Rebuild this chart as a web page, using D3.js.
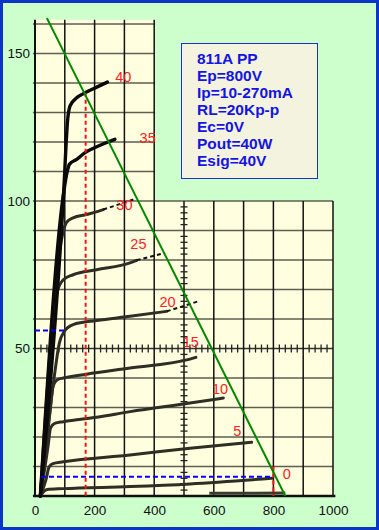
<!DOCTYPE html>
<html>
<head>
<meta charset="utf-8">
<script src="https://cdn.jsdelivr.net/npm/d3@7"></script>
<style>
  body { margin: 0; background: #ccffcc; }
  svg { display: block; }
</style>
</head>
<body>
<div id="container"></div>
<script>
/* CONSTANTS AND GLOBALS */
const width = 379,
  height = 530;

/* DATA */
// grid voltage of each plate curve
const gridBias = [0, 5, 10, 15, 20, 25, 30, 35, 40];

// plate curves, [plate V, plate mA]
const curve0 = [[18, 0], [30, 1.6], [40, 2.2], [95, 2.5], [319, 3.2], [520, 4.1], [794, 6]];
const curve5 = [[18, 0], [38, 6], [47, 9.8], [60, 11], [95, 11.6], [319, 13.9], [520, 16.2], [727, 18.2]];
const curve10 = [[18, 0], [44, 17], [52, 23], [66, 24.6], [95, 25.2], [207, 26.7], [319, 28.6], [520, 31.5], [632, 33.2]];
const curve15 = [[18, 0], [50, 28], [60, 37], [75, 39.4], [95, 40], [173, 41.3], [319, 43.4], [520, 46.4], [540, 47]];
const curve20 = [[18, 0], [64, 40], [82, 52], [97, 55.6], [128, 58.1], [207, 59.5], [319, 60.9], [442, 62.6]];
const curve25 = [[18, 0], [60, 52], [74, 69], [95, 73.3], [128, 75], [207, 76.7], [319, 79], [341, 79.9]];
const curve30 = [[18, 0], [78, 80], [95, 89.7], [106, 92.8], [128, 94.3], [173, 95.4], [229, 97.1]];
const curve35 = [[18, 0], [95, 102], [108, 110], [116, 112.5], [140, 114.1], [168, 116.4], [207, 118.4], [268, 120.9]];
const curve40 = [[18, 0], [95, 100.5], [110, 128], [118, 132.3], [140, 135], [168, 136.7], [207, 138.6], [243, 140.3]];
const plateCurves = [curve0, curve5, curve10, curve15, curve20, curve25, curve30, curve35, curve40];

// cut-off trace lying on the axis
const cutoff = [[585, 0.9], [840, 1]];

// dashed extensions of curves 20, 25, 30
const extensions = [
  [[442, 62.6], [554, 66.2]],
  [[341, 79.9], [436, 82.4]],
  [[229, 97.1], [330, 100.5]]
];

// where each grid voltage label sits, [V, mA]
const biasLabelAt = [[845, 7.5], [679, 22.2], [621, 36.3], [523, 52.2], [445, 65.8], [347, 85.6], [300, 98.8], [378, 121.5], [296, 142]];

// load line, operating point markers
const loadLine = [[40, 162], [840, 0]];
const redMarks = [[[170, 136.7], [170, 0]], [[800, 10], [800, 0]]];
const blueMarks = [[[0, 56.1], [106, 56.1]], [[20, 6.5], [800, 6.5]]];

const xTicks = [0, 200, 400, 600, 800, 1000];
const yTicks = [50, 100, 150];

const infoLines = ["811A PP", "Ep=800V", "Ip=10-270mA", "RL=20Kp-p", "Ec=0V", "Pout=40W", "Esig=40V"];

/* SCALES */
const x = d3.scaleLinear().domain([0, 1000]).range([35, 333]);
const y = d3.scaleLinear().domain([0, 150]).range([496, 53.5]);

const line = d3.line()
  .x(d => x(d[0]))
  .y(d => y(d[1]));

/* SVG */
const svg = d3.select("#container")
  .append("svg")
  .attr("width", width)
  .attr("height", height)
  .style("font-family", "'Liberation Sans', Arial, sans-serif");

svg.append("rect")
  .attr("x", 1.5).attr("y", 1.5)
  .attr("width", width - 3).attr("height", height - 3)
  .attr("fill", "#ccffcc")
  .attr("stroke", "#0a35c8")
  .attr("stroke-width", 3);

// paper area (tall left part + lower right part)
const topMA = 161.4;
svg.append("path")
  .attr("d", line([[0, topMA], [403, topMA], [403, 100], [1000, 100], [1000, 0], [0, 0]]) + "Z")
  .attr("fill", "#ffffe0");

// horizontal grid
const hLines = d3.range(10, 161, 10);
svg.append("g")
  .selectAll("line")
  .data(hLines)
  .join("line")
  .attr("x1", x(-7))
  .attr("x2", d => d > 100 ? x(403) : x(1000))
  .attr("y1", d => y(d))
  .attr("y2", d => y(d))
  .attr("stroke", d => d === 50 ? "#333" : "#5e5e52")
  .attr("stroke-width", 1.7);

// vertical grid
const vLines = d3.range(0, 1001, 100);
svg.append("g")
  .selectAll("line")
  .data(vLines)
  .join("line")
  .attr("x1", d => x(d))
  .attr("x2", d => x(d))
  .attr("y1", y(0))
  .attr("y2", d => d <= 400 ? y(topMA) : y(100))
  .attr("stroke", "#111")
  .attr("stroke-width", d => d === 0 ? 2 : 1.5);

// little ticks on the 50 mA line and the 500 V line
svg.append("g")
  .selectAll("line")
  .data(d3.range(20, 1000, 20).filter(v => v % 100 !== 0))
  .join("line")
  .attr("x1", d => x(d)).attr("x2", d => x(d))
  .attr("y1", y(50) - 4).attr("y2", y(50) + 4)
  .attr("stroke", "#222").attr("stroke-width", 1.3);

svg.append("g")
  .selectAll("line")
  .data(d3.range(2, 100, 2).filter(v => v % 10 !== 0))
  .join("line")
  .attr("x1", x(500) - 3.5).attr("x2", x(500) + 3.5)
  .attr("y1", d => y(d)).attr("y2", d => y(d))
  .attr("stroke", "#222").attr("stroke-width", 1.3);

// x axis line
svg.append("line")
  .attr("x1", x(-7)).attr("x2", x(1008))
  .attr("y1", y(0)).attr("y2", y(0))
  .attr("stroke", "#111").attr("stroke-width", 2.5);

/* PLATE CURVES */
const curveLine = d3.line()
  .x(d => x(d[0]))
  .y(d => y(d[1]))
  .curve(d3.curveMonotoneX);

svg.append("g")
  .selectAll("path")
  .data(plateCurves)
  .join("path")
  .attr("d", curveLine)
  .attr("fill", "none")
  .attr("stroke", (d, i) => gridBias[i] >= 35 ? "#0a0a0a" : "#2e2e24")
  .attr("stroke-width", (d, i) => gridBias[i] >= 35 ? 3.4 : 3)
  .attr("stroke-linecap", "round");

svg.append("path")
  .attr("d", line(cutoff))
  .attr("fill", "none")
  .attr("stroke", "#3a3a30")
  .attr("stroke-width", 3);

svg.append("g")
  .selectAll("path")
  .data(extensions)
  .join("path")
  .attr("d", line)
  .attr("fill", "none")
  .attr("stroke", "#111")
  .attr("stroke-width", 2)
  .attr("stroke-dasharray", "4,3");

/* MARKERS */
svg.append("g")
  .selectAll("path")
  .data(blueMarks)
  .join("path")
  .attr("d", line)
  .attr("stroke", "#0000ff")
  .attr("stroke-width", 2)
  .attr("stroke-dasharray", "5,3");

svg.append("g")
  .selectAll("path")
  .data(redMarks)
  .join("path")
  .attr("d", line)
  .attr("stroke", "#ff1010")
  .attr("stroke-width", 2)
  .attr("stroke-dasharray", "4,3");

svg.append("path")
  .attr("d", line(loadLine))
  .attr("stroke", "#008a00")
  .attr("stroke-width", 2);

// grid voltage labels
svg.append("g")
  .selectAll("text")
  .data(gridBias)
  .join("text")
  .attr("x", (d, i) => x(biasLabelAt[i][0]))
  .attr("y", (d, i) => y(biasLabelAt[i][1]))
  .attr("dy", "0.36em")
  .attr("text-anchor", "middle")
  .attr("fill", "#ff2020")
  .style("font-size", "14.5px")
  .text(d => d);

/* AXES */
const xAxis = d3.axisBottom(x).tickValues(xTicks).tickFormat(d3.format("d")).tickSize(0).tickPadding(9);
svg.append("g")
  .attr("transform", `translate(0,${y(0)})`)
  .call(xAxis)
  .call(g => g.select(".domain").remove())
  .selectAll("text")
  .attr("fill", "#111")
  .style("font-size", "13.5px")
  .style("font-family", "'Liberation Sans', Arial, sans-serif");

const yAxis = d3.axisLeft(y).tickValues(yTicks).tickSize(0).tickPadding(5);
svg.append("g")
  .attr("transform", `translate(${x(0)},0)`)
  .call(yAxis)
  .call(g => g.select(".domain").remove())
  .selectAll("text")
  .attr("fill", "#111")
  .style("font-size", "13.5px")
  .style("font-family", "'Liberation Sans', Arial, sans-serif");

/* INFO BOX */
svg.append("rect")
  .attr("x", 181.5).attr("y", 43.5)
  .attr("width", 136).attr("height", 135)
  .attr("fill", "#f3f3df")
  .attr("stroke", "#1f2fd8")
  .attr("stroke-width", 1);

svg.append("g")
  .selectAll("text")
  .data(infoLines)
  .join("text")
  .attr("x", 197)
  .attr("y", (d, i) => 64 + i * 17)
  .attr("fill", "#1414e6")
  .style("font-size", "15.5px")
  .style("font-weight", "bold")
  .text(d => d);
</script>
</body>
</html>
